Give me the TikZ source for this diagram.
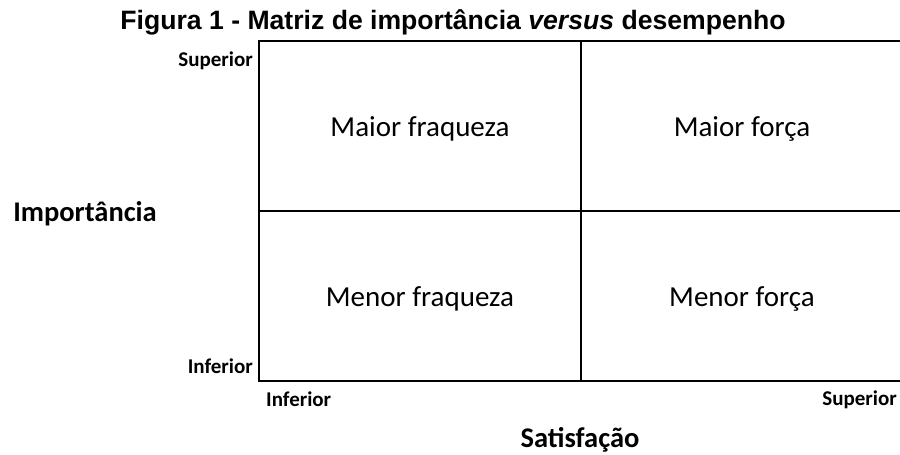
\documentclass[tikz,border=0pt]{standalone}
\usepackage{fontspec}
\setmainfont{Carlito}
\newfontfamily\titlefont{Liberation Sans}
\usetikzlibrary{positioning}

\tikzset{
    grid/.style={line width=2.5pt, line join=miter},
    tick/.style={inner sep=0pt, font=\bfseries\fontsize{21}{25}\selectfont},
    axis/.style={inner sep=0pt, font=\bfseries\fontsize{28.5}{34}\selectfont},
    quad/.style={inner sep=0pt, anchor=base, font=\fontsize{29}{35}\selectfont}
}

\begin{document}
\begin{tikzpicture}[x=1pt, y=-1pt]
    \useasboundingbox (0,0) rectangle (900,455);

    % frame of the matrix
    \coordinate (nw) at (259,41);
    \coordinate (sw) at (259,381);
    \coordinate (ne) at (905,41);
    \coordinate (se) at (905,381);
    \coordinate (n) at (581,41);
    \coordinate (s) at (581,381);
    \coordinate (w) at (259,211);
    \coordinate (e) at (905,211);

    \draw[grid] (ne) -- (nw) -- (sw) -- (se);
    \draw[grid] (n) -- (s);
    \draw[grid] (w) -- (e);

    % title
    \node[inner sep=0pt, anchor=base, font=\titlefont\bfseries\fontsize{26.6}{30}\selectfont]
        (title) at (453,29) {Figura 1 - Matriz de importância \textit{versus} desempenho};

    % quadrants
    \node[quad] (q1) at (420,136) {Maior fraqueza};
    \node[quad] (q2) at (742,136) {Maior força};
    \node[quad] (q3) at (420,306) {Menor fraqueza};
    \node[quad] (q4) at (742,306) {Menor força};

    % vertical axis
    \node[tick, anchor=base east] (ysup) at (253,66) {Superior};
    \node[tick, anchor=base east] (yinf) at (253,373) {Inferior};
    \node[axis, anchor=base] (ylab) at (85,221) {Importância};

    % horizontal axis
    \node[tick, anchor=base west] (xinf) at (266,406) {Inferior};
    \node[tick, anchor=base east] (xsup) at (897,405) {Superior};
    \node[axis, anchor=base] (xlab) at (580,447) {Satisfação};
\end{tikzpicture}
\end{document}
